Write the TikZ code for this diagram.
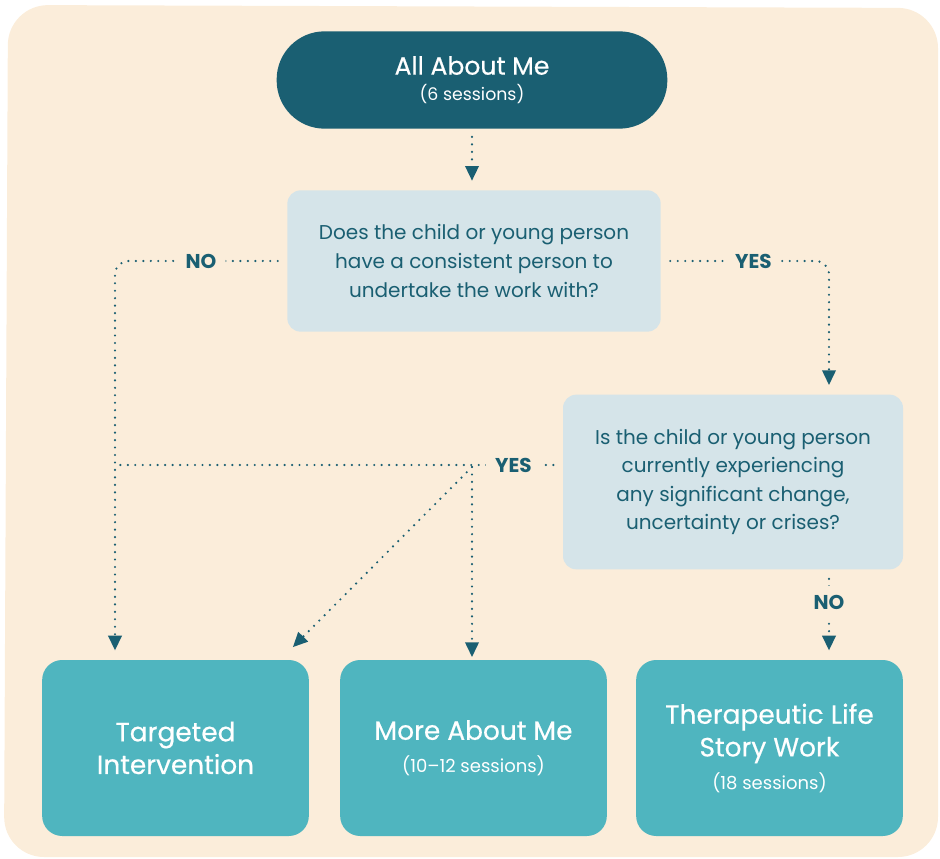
\documentclass[tikz,border=0pt]{standalone}
\usepackage{fontspec}
\setmainfont{Poppins}
\newfontfamily\medfont{Poppins}[FakeBold=0.5]
\usetikzlibrary{arrows.meta}

\definecolor{cream}{HTML}{FBEDDA}
\definecolor{deepteal}{HTML}{1A5F72}
\definecolor{paleblue}{HTML}{D5E4E9}
\definecolor{midteal}{HTML}{4FB5BF}

\begin{document}
\begin{tikzpicture}[x=0.75pt,y=-0.75pt,
  pill/.style={fill=deepteal,text=white,rounded corners=36pt,minimum width=293pt,minimum height=73pt,align=center,font=\medfont\fontsize{18.8}{19.5}\selectfont},
  question/.style={fill=paleblue,text=deepteal,rounded corners=10pt,align=center,font=\fontsize{15}{21.4}\selectfont},
  outcome/.style={fill=midteal,text=white,rounded corners=15pt,minimum width=200pt,minimum height=132pt,align=center,font=\medfont\fontsize{19.8}{24.5}\selectfont},
  small/.style={font=\fontsize{11}{13}\selectfont},
  flow/.style={deepteal,line width=1.8pt,line cap=round,dash pattern=on 0pt off 5.6pt},
  tip/.style={-{Triangle[width=10pt,length=11pt]}},
  answer/.style={fill=cream,text=deepteal,font=\bfseries\fontsize{15}{17}\selectfont,inner sep=7pt}]

\useasboundingbox (0,0) rectangle (940,859);
\fill[cream,rounded corners=30pt] (8,5) -- (938,8) -- (938,857) -- (4,857) -- cycle;

\node[pill] (top) at (472,80) {All About Me\\{\normalfont\fontsize{13}{13}\selectfont (6 sessions)}};
\node[question,minimum width=280pt,minimum height=106pt] (ask1) at (474,261) {Does the child or young person\\have a consistent person to\\undertake the work with?};
\node[question,minimum width=255pt,minimum height=131pt] (ask2) at (733,482) {Is the child or young person\\currently experiencing\\any significant change,\\uncertainty or crises?};

\node[outcome] (targeted) at (175.5,748) {Targeted\\Intervention};
\node[outcome] (more) at (473.5,748) {More About Me\\{\normalfont\fontsize{13.5}{13}\selectfont (10--12 sessions)}};
\node[outcome] (story) at (769.5,748) {Therapeutic Life\\Story Work\\{\normalfont\fontsize{13.5}{13}\selectfont (18 sessions)}};

\coordinate (nobend) at (115,261);
\coordinate (yesbend) at (829,261);
\coordinate (yesmeet) at (115,465);
\coordinate (fork) at (472,467);
\coordinate (diagend) at (291,649);

\draw[flow,tip,shorten <=6pt,shorten >=7pt] (top.south) -- (top.south |- ask1.north);
\draw[flow,tip,rounded corners=10pt,shorten <=7pt,shorten >=7pt] (ask1.west) -- node[answer] {NO} (nobend) -- (nobend |- targeted.north);
\draw[flow,tip,rounded corners=10pt,shorten <=7pt,shorten >=7pt] (ask1.east) -- node[answer,pos=0.55] {YES} (yesbend) -- (yesbend |- ask2.north);
\draw[flow,shorten <=7pt] (ask2.west |- yesmeet) -- node[answer,pos=0.11] {YES} (yesmeet);
\draw[flow,tip,shorten <=7pt,shorten >=7pt] (yesbend |- ask2.south) -- node[answer,pos=0.36] {NO} (yesbend |- story.north);

\foreach \from/\to in {fork/diagend, fork/fork |- more.north}
  \draw[flow,tip,shorten >=2pt] (\from) -- (\to);
\end{tikzpicture}
\end{document}
